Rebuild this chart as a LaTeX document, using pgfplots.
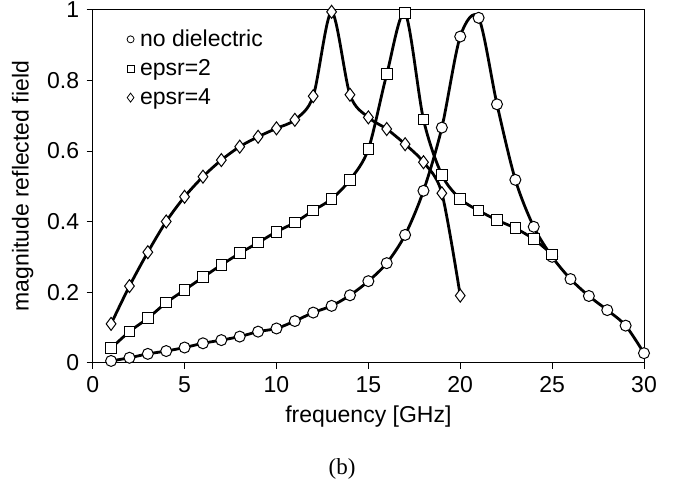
\documentclass[border=0pt]{standalone}
\usepackage{fontspec}
\setmainfont{Liberation Sans}
\newfontfamily\capfont{Liberation Serif}
\usepackage{pgfplots}
\usepackage{pgfplotstable}
\pgfplotsset{compat=1.18}

% frequency [GHz] vs magnitude of reflected field
\pgfplotstableread{
f mag
1 0.005
2 0.014
3 0.025
4 0.033
5 0.043
6 0.055
7 0.064
8 0.074
9 0.088
10 0.097
11 0.118
12 0.142
13 0.161
14 0.191
15 0.231
16 0.282
17 0.362
18 0.487
19 0.666
20 0.924
21 0.977
22 0.732
23 0.518
24 0.385
25 0.300
26 0.237
27 0.189
28 0.149
29 0.105
30 0.027
}\nodiel

\pgfplotstableread{
f mag
1 0.041
2 0.088
3 0.126
4 0.170
5 0.206
6 0.242
7 0.277
8 0.310
9 0.340
10 0.371
11 0.397
12 0.431
13 0.464
14 0.518
15 0.605
16 0.817
17 0.990
18 0.689
19 0.532
20 0.464
21 0.431
22 0.404
23 0.381
24 0.350
25 0.307
}\epstwo

\pgfplotstableread{
f mag
1 0.110
2 0.217
3 0.313
4 0.400
5 0.470
6 0.527
7 0.574
8 0.612
9 0.640
10 0.664
11 0.688
12 0.755
13 0.994
14 0.759
15 0.695
16 0.662
17 0.619
18 0.568
19 0.480
20 0.190
}\epsfour

\begin{document}
\begin{tikzpicture}[font=\fontsize{23}{27}\selectfont]
\path[use as bounding box] (-92.7pt,-122.3pt) rectangle (581.3pt,362.7pt);
\begin{axis}[
  scale only axis, width=551.3pt, height=353pt,
  xmin=0, xmax=30, ymin=0, ymax=1,
  xtick={0,5,...,30}, ytick={0,0.2,...,1},
  yticklabels={0,0.2,0.4,0.6,0.8,1},
  tick align=outside, major tick length=6pt,
  tick style={black, line width=0.6pt},
  axis line style={line width=0.7pt},
  xtick pos=bottom, ytick pos=left,
  /pgf/number format/assume math mode=true,
  ticklabel style={font=\fontsize{23}{27}\selectfont},
  xticklabel style={yshift=-4pt},
  yticklabel style={xshift=-4pt},
  xlabel={frequency [GHz]}, ylabel={magnitude reflected field},
  label style={font=\fontsize{23}{27}\selectfont},
  xlabel style={yshift=-6pt},
  ylabel style={yshift=7pt},
  clip=false,
  legend image code/.code={\draw[#1] plot coordinates {(0pt,0pt)};},
  legend style={at={(rel axis cs:0.062,0.948)}, anchor=north west,
    draw=none, fill=none, font=\fontsize{23}{27}\selectfont,
    row sep=7.5pt, column sep=4pt, inner sep=0pt,
    nodes={inner sep=2pt}},
  legend cell align=left,
  every axis plot/.append style={black},
]
\addplot[line width=2.8pt, smooth, forget plot] table[x=f,y=mag] {\nodiel};
\addplot[line width=2.8pt, smooth, forget plot] table[x=f,y=mag] {\epstwo};
\addplot[line width=2.8pt, smooth, forget plot] table[x=f,y=mag] {\epsfour};
\addplot[only marks, mark=*, mark size=5.5pt, mark options={fill=white, draw=black, line width=1pt}, forget plot] table[x=f,y=mag] {\nodiel};
\addplot[only marks, mark=square*, mark size=5.3pt, mark options={fill=white, draw=black, line width=1pt}, forget plot] table[x=f,y=mag] {\epstwo};
\addplot[only marks, mark=diamond*, mark size=6.5pt, mark options={fill=white, draw=black, line width=1pt}, forget plot] table[x=f,y=mag] {\epsfour};
\addlegendimage{only marks, mark=*, mark size=3.5pt, mark options={fill=white, draw=black, line width=0.8pt}}
\addlegendentry{no dielectric}
\addlegendimage{only marks, mark=square*, mark size=3.5pt, mark options={fill=white, draw=black, line width=0.8pt}}
\addlegendentry{epsr=2}
\addlegendimage{only marks, mark=diamond*, mark size=4.5pt, mark options={fill=white, draw=black, line width=0.8pt}}
\addlegendentry{epsr=4}
\end{axis}
\node[font=\capfont\fontsize{23}{27}\selectfont] at (249.3pt,-106.3pt) {(b)};
\end{tikzpicture}
\end{document}
